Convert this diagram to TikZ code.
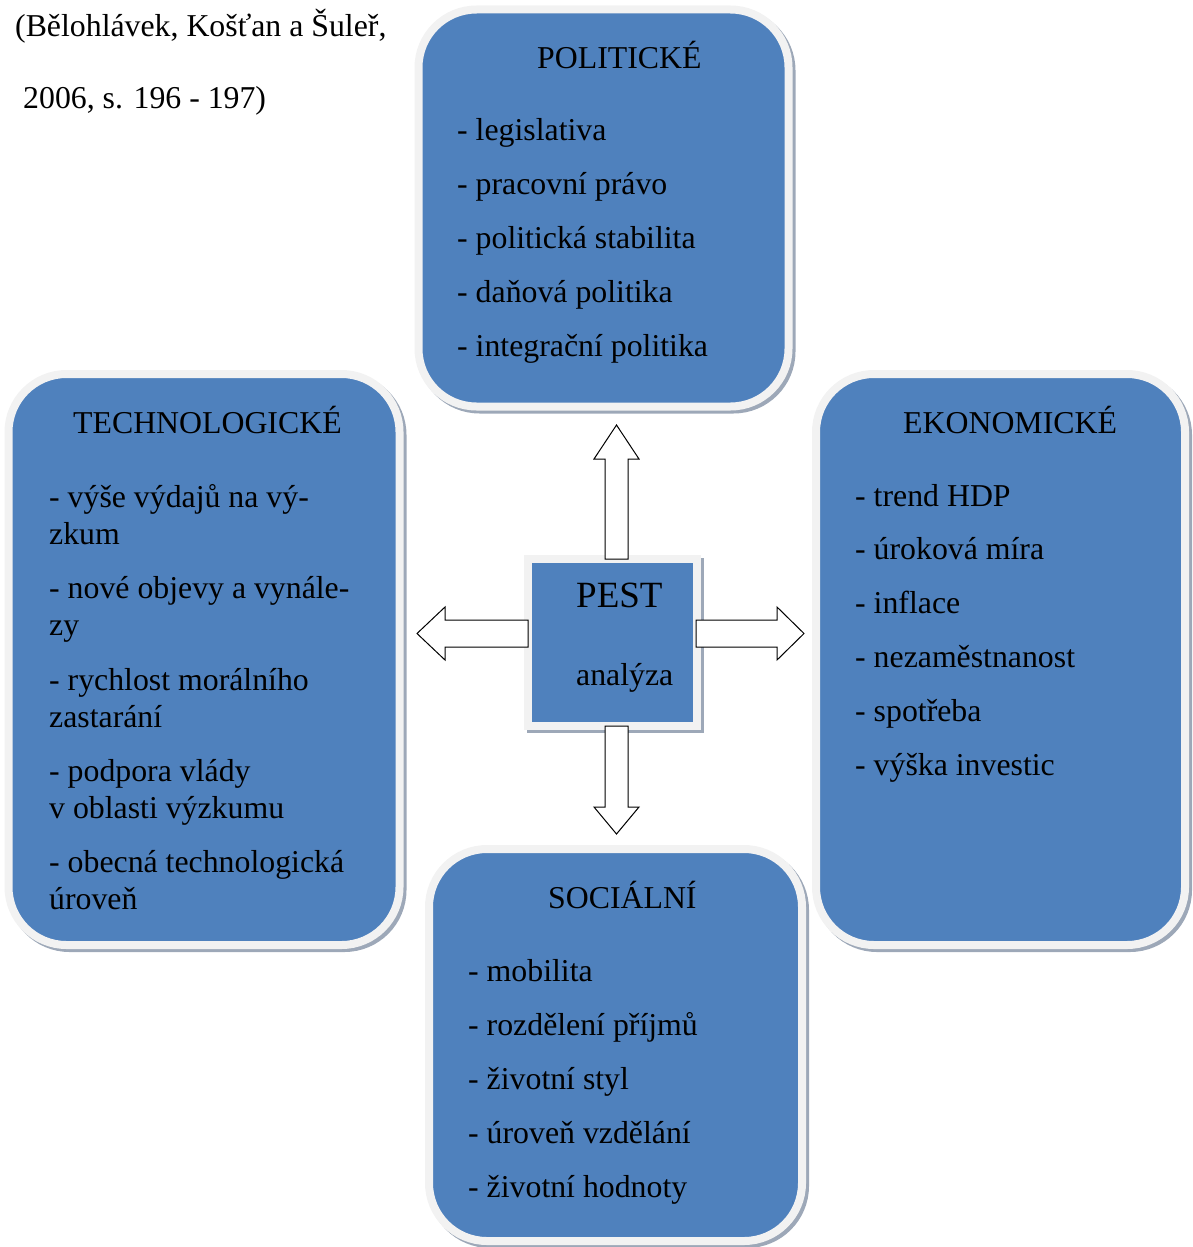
\documentclass[tikz,border=0pt]{standalone}
\usepackage{fontspec}
\setmainfont{Liberation Serif}
\usepackage{tikz}

\definecolor{pestblue}{HTML}{4F81BD}
\definecolor{rimgray}{HTML}{F2F2F2}
\definecolor{shadegray}{HTML}{9DA8B8}

\begin{document}
\begin{tikzpicture}[x=1pt,y=-1pt,
    factorbox/.style={draw=rimgray, line width=8pt, fill=pestblue, rounded corners=58pt,
      preaction={draw=shadegray, line width=8pt, transform canvas={shift={(3pt,-3pt)}}}},
    centrebox/.style={draw=rimgray, line width=8pt, fill=pestblue,
      preaction={draw=shadegray, line width=8pt, transform canvas={shift={(3pt,-3pt)}}}},
    itemtext/.style={anchor=base west, inner sep=0pt, font=\fontsize{31.8}{37}\selectfont},
    blockarrow/.style={draw=black, fill=white, line width=1pt, line join=miter}]
             \useasboundingbox (0,0) rectangle (1193,1247);

             % source
             \node[itemtext] (src1) at (15, 37) {(Bělohlávek, Košťan a Šuleř,};
             \node[itemtext] (src2) at (23, 108) {2006, s. 196 - 197)};

             % boxes
             \node[factorbox, minimum width=370pt, minimum height=397pt] (pol) at (603.5, 208) {};
             \node[factorbox, minimum width=391pt, minimum height=571pt] (tec) at (204, 659.5) {};
             \node[factorbox, minimum width=369pt, minimum height=571pt] (eko) at (1000.5, 659.5) {};
             \node[factorbox, minimum width=373pt, minimum height=392pt] (soc) at (615.5, 1045) {};
             \node[centrebox, minimum width=169pt, minimum height=167pt] (pest) at (612.5, 642.5) {};

             % PEST
             \node[itemtext, font=\fontsize{37}{42}\selectfont] (pestname) at (576, 607) {PEST};
             \node[itemtext] (pestsub) at (576, 685) {analýza};

             % arrows
             \coordinate (upfoot) at (616.5, 559);
             \coordinate (downfoot) at (616.5, 726);
             \coordinate (leftfoot) at (528, 633.5);
             \coordinate (rightfoot) at (696, 633.5);
             \draw[blockarrow] (upfoot) ++(-11.5,0) -- ++(0,-100) -- ++(-11,0) -- ++(22.5,-34)
                   -- ++(22.5,34) -- ++(-11,0) -- ++(0,100) -- cycle;
             \draw[blockarrow] (downfoot) ++(-11.5,0) -- ++(0,81) -- ++(-11,0) -- ++(22.5,27)
                   -- ++(22.5,-27) -- ++(-11,0) -- ++(0,-81) -- cycle;
             \draw[blockarrow] (leftfoot) ++(0,-13.5) -- ++(-83,0) -- ++(0,-13) -- ++(-28,26.5)
                   -- ++(28,26.5) -- ++(0,-13) -- ++(83,0) -- cycle;
             \draw[blockarrow] (rightfoot) ++(0,-13.5) -- ++(81,0) -- ++(0,-13) -- ++(27,26.5)
                   -- ++(-27,26.5) -- ++(0,-13) -- ++(-81,0) -- cycle;

             % politicke
             \node[itemtext] (poltitle) at (537, 68) {POLITICKÉ};
             \node[itemtext] (pol1) at (457, 140) {- legislativa};
             \node[itemtext] (pol2) at (457, 194) {- pracovní právo};
             \node[itemtext] (pol3) at (457, 248) {- politická stabilita};
             \node[itemtext] (pol4) at (457, 302) {- daňová politika};
             \node[itemtext] (pol5) at (457, 356) {- integrační politika};

             % technologicke
             \node[itemtext] (tectitle) at (73, 433) {TECHNOLOGICKÉ};
             \node[itemtext] (tec1a) at (49, 507) {- výše výdajů na vý-};
             \node[itemtext] (tec1b) at (49, 544) {zkum};
             \node[itemtext] (tec2a) at (49, 598) {- nové objevy a vynále-};
             \node[itemtext] (tec2b) at (49, 635) {zy};
             \node[itemtext] (tec3a) at (49, 690) {- rychlost morálního};
             \node[itemtext] (tec3b) at (49, 727) {zastarání};
             \node[itemtext] (tec4a) at (49, 781) {- podpora vlády};
             \node[itemtext] (tec4b) at (49, 818) {v oblasti výzkumu};
             \node[itemtext] (tec5a) at (49, 872) {- obecná technologická};
             \node[itemtext] (tec5b) at (49, 909) {úroveň};

             % ekonomicke
             \node[itemtext] (ekotitle) at (903, 433) {EKONOMICKÉ};
             \node[itemtext] (eko1) at (855, 506) {- trend HDP};
             \node[itemtext] (eko2) at (855, 559) {- úroková míra};
             \node[itemtext] (eko3) at (855, 613) {- inflace};
             \node[itemtext] (eko4) at (855, 667) {- nezaměstnanost};
             \node[itemtext] (eko5) at (855, 721) {- spotřeba};
             \node[itemtext] (eko6) at (855, 775) {- výška investic};

             % socialni
             \node[itemtext] (soctitle) at (548, 908) {SOCIÁLNÍ};
             \node[itemtext] (soc1) at (468, 981) {- mobilita};
             \node[itemtext] (soc2) at (468, 1035) {- rozdělení příjmů};
             \node[itemtext] (soc3) at (468, 1089) {- životní styl};
             \node[itemtext] (soc4) at (468, 1143) {- úroveň vzdělání};
             \node[itemtext] (soc5) at (468, 1197) {- životní hodnoty};
\end{tikzpicture}
\end{document}
